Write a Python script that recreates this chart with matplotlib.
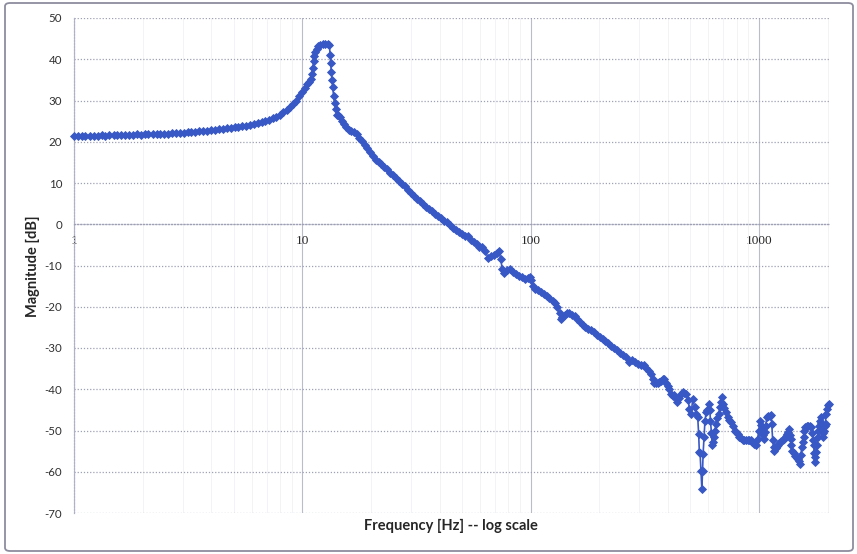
import matplotlib
matplotlib.use('Agg')
import matplotlib.pyplot as plt
from matplotlib.patches import FancyBboxPatch
from matplotlib.ticker import FixedLocator, LogLocator, NullFormatter

plt.rcParams['axes.unicode_minus'] = False

# ---------------- data ----------------
freq_hz = [
    1.00, 1.04, 1.08, 1.12, 1.17, 1.22, 1.27, 1.32, 1.37, 1.43,
    1.49, 1.55, 1.61, 1.67, 1.74, 1.81, 1.88, 1.96, 2.04, 2.12,
    2.21, 2.30, 2.39, 2.48, 2.58, 2.69, 2.80, 2.91, 3.03, 3.15,
    3.27, 3.40, 3.54, 3.68, 3.83, 3.98, 4.14, 4.31, 4.48, 4.66,
    4.85, 5.05, 5.25, 5.46, 5.68, 5.90, 6.14, 6.38, 6.63, 6.89,
    7.15, 7.42, 7.70, 7.98, 8.27, 8.56, 8.85, 9.14, 9.43, 9.72,
    10.0, 10.25, 10.5, 10.75, 10.95, 11.05, 11.12, 11.2, 11.3, 11.4,
    11.55, 11.75, 12.0, 12.3, 12.6, 12.9, 13.15, 13.25, 13.32, 13.40,
    13.50, 13.60, 13.72, 13.85, 14.0, 14.15, 14.4, 14.7, 15.0, 15.3,
    15.6, 16.0, 16.4, 16.8, 17.3, 17.8, 18.3, 18.8, 19.3, 19.8,
    20.4, 21.0, 21.6, 22.2, 22.9, 23.6, 24.3, 25.0, 25.8, 26.6,
    27.4, 28.2, 29.1, 30.0, 30.9, 31.8, 32.8, 33.8, 34.8, 35.9,
    37.0, 38.1, 39.3, 40.5, 41.7, 43.0, 44.3, 45.6, 47.0, 48.4,
    49.9, 51.4, 53.0, 54.6, 56.3, 58.0, 59.7, 61.5, 63.4, 65.3,
    67.3, 69.3, 71.4, 72.9, 74.0, 75.2, 76.5, 78.8, 81.2, 83.6,
    86.1, 88.7, 91.4, 94.2, 97.0, 99.0, 100.5, 102, 105, 108,
    111, 114, 118, 121, 125, 128, 131, 134, 136, 138,
    141, 145, 148, 152, 156, 160, 164, 169, 174, 179,
    184, 189, 195, 201, 207, 213, 219, 226, 233, 240,
    247, 254, 262, 270, 278, 286, 295, 304, 313, 322,
    332, 338, 344, 349, 355, 361, 367, 373, 380, 386,
    393, 399, 405, 412, 419, 426, 433, 440, 447, 455,
    464, 472, 480, 490, 497, 505, 514, 523, 531, 540,
    545, 549, 553, 558, 563, 567, 570, 576, 581, 588,
    595, 605, 610, 614, 620, 625, 630, 635, 642, 650,
    659, 668, 674, 680, 690, 697, 707, 718, 730, 743,
    757, 770, 783, 795, 808, 821, 835, 850, 865, 880,
    895, 910, 920, 935, 955, 975, 988, 1000, 1010, 1020,
    1030, 1040, 1050, 1060, 1070, 1085, 1100, 1120, 1130, 1140,
    1150, 1160, 1170, 1185, 1200, 1215, 1230, 1250, 1270, 1290,
    1310, 1330, 1345, 1360, 1370, 1380, 1390, 1400, 1420, 1440,
    1465, 1490, 1505, 1520, 1530, 1540, 1555, 1570, 1585, 1600,
    1625, 1650, 1675, 1700, 1715, 1730, 1740, 1750, 1760, 1770,
    1780, 1795, 1810, 1825, 1840, 1855, 1870, 1880, 1890, 1905,
    1920, 1935, 1950, 1960, 1970, 1985, 2000, 2020,
]

magnitude_db = [
    21.5, 21.5, 21.4, 21.5, 21.5, 21.5, 21.5, 21.6, 21.5, 21.6,
    21.6, 21.6, 21.7, 21.6, 21.7, 21.7, 21.8, 21.7, 21.8, 21.8,
    21.9, 21.9, 22.0, 21.9, 22.0, 22.1, 22.1, 22.2, 22.2, 22.3,
    22.4, 22.4, 22.5, 22.6, 22.7, 22.8, 22.9, 23.0, 23.1, 23.3,
    23.4, 23.5, 23.6, 23.8, 23.9, 24.1, 24.3, 24.5, 24.8, 25.0,
    25.3, 25.7, 26.1, 26.6, 27.2, 27.8, 28.5, 29.2, 30.0, 31.0,
    32.0, 33.0, 34.0, 34.6, 35.1, 36.5, 38.0, 39.5, 40.8, 41.8,
    42.6, 43.1, 43.4, 43.6, 43.6, 43.6, 43.4, 41.0, 39.0, 36.8,
    35.0, 33.3, 31.0, 29.3, 28.0, 26.6, 26.4, 26.0, 25.0, 24.2,
    23.5, 22.8, 22.6, 22.4, 21.9, 21.0, 20.3, 19.3, 18.5, 17.4,
    16.6, 15.6, 15.2, 14.7, 14.0, 13.3, 12.4, 11.9, 11.1, 10.5,
    9.8, 9.3, 8.4, 7.6, 6.8, 6.1, 5.6, 5.0, 4.3, 3.8,
    3.2, 2.5, 2.0, 1.5, 0.9, 0.5, -0.2, -0.8, -1.4, -1.9,
    -2.4, -2.9, -2.9, -3.8, -4.4, -4.8, -5.5, -5.5, -6.5, -8.3,
    -7.8, -7.4, -6.9, -6.6, -8.5, -10.8, -11.7, -11.2, -10.9, -11.5,
    -12.0, -12.5, -12.8, -13.2, -13.1, -12.7, -13.6, -15.0, -15.6, -16.0,
    -16.5, -16.9, -17.4, -17.9, -18.5, -19.0, -20.1, -21.6, -22.9, -22.5,
    -21.9, -21.4, -21.4, -21.9, -22.3, -22.9, -23.6, -24.4, -24.8, -25.3,
    -25.7, -26.2, -26.8, -27.4, -27.8, -28.2, -28.8, -29.6, -30.1, -30.6,
    -31.1, -31.7, -32.3, -33.4, -32.9, -33.3, -33.8, -34.0, -34.2, -34.9,
    -35.6, -36.3, -37.5, -38.6, -38.4, -38.5, -38.3, -37.9, -37.4, -37.6,
    -38.4, -39.3, -40.0, -41.1, -41.6, -41.4, -42.2, -43.0, -42.0, -41.2,
    -40.7, -40.9, -41.1, -42.7, -44.7, -45.9, -42.3, -44.3, -45.9, -46.8,
    -50.8, -55.3, -55.5, -59.7, -64.2, -59.8, -55.7, -51.5, -47.6, -45.6,
    -45.1, -43.5, -45.0, -47.6, -50.5, -53.6, -52.8, -51.6, -50.0, -48.4,
    -47.0, -45.9, -44.4, -43.1, -41.9, -43.5, -44.6, -45.6, -46.8, -47.5,
    -48.0, -49.0, -50.0, -50.3, -50.9, -51.6, -51.8, -52.4, -52.3, -52.4,
    -52.3, -52.3, -52.4, -52.8, -53.2, -53.6, -52.0, -50.0, -47.6, -48.6,
    -49.6, -51.0, -52.0, -50.4, -48.8, -46.8, -46.5, -46.4, -46.2, -48.4,
    -52.4, -54.0, -54.9, -54.3, -53.7, -53.4, -53.0, -52.6, -52.3, -52.0,
    -51.4, -50.8, -50.3, -49.6, -51.0, -52.0, -53.5, -54.9, -55.5, -56.1,
    -56.6, -56.9, -57.5, -58.1, -56.0, -54.1, -52.8, -51.6, -50.2, -49.2,
    -48.9, -48.8, -48.9, -49.2, -50.5, -52.4, -53.6, -55.5, -57.7, -56.5,
    -55.3, -53.5, -51.6, -50.1, -48.8, -47.6, -46.8, -48.3, -49.6, -50.6,
    -51.6, -50.2, -49.0, -48.4, -45.9, -44.8, -43.9, -43.5,
]

x_ticks = [1, 10, 100, 1000]
x_tick_labels = ['1', '10', '100', '1000']
y_ticks = [-70, -60, -50, -40, -30, -20, -10, 0, 10, 20, 30, 40, 50]
x_label = 'Frequency [Hz] -- log scale'
y_label = 'Magnitude [dB]'

# ---------------- figure ----------------
W, H = 857, 554
fig = plt.figure(figsize=(W / 100, H / 100), dpi=100)
fig.patch.set_facecolor('white')

left, right, top, bottom = 74, 829, 18, 513
ax = fig.add_axes([left / W, 1 - bottom / H, (right - left) / W, (bottom - top) / H])
ax.set_facecolor('white')
ax.set_xscale('log')
ax.set_xlim(1, 2030)
ax.set_ylim(-70, 50)

# grid lines
ax.xaxis.set_major_locator(FixedLocator(x_ticks))
ax.xaxis.set_minor_locator(LogLocator(base=10, subs=range(2, 10)))
ax.xaxis.set_minor_formatter(NullFormatter())
ax.set_xticklabels(x_tick_labels)
ax.grid(which='minor', axis='x', color='#f1f1f5', lw=0.6, zorder=0)
ax.grid(which='major', axis='x', color='#babccb', lw=0.8, zorder=0)
ax.set_yticks(y_ticks)
ax.grid(which='major', axis='y', color='#9fa0b4', lw=0.9, linestyle=(0, (1, 1.5)), zorder=0)
ax.set_axisbelow(True)

# spines: Excel-like axes crossing at x=1, y=0
for s in ('top', 'right'):
    ax.spines[s].set_visible(False)
ax.spines['bottom'].set_position(('data', 0))
ax.spines['bottom'].set_color('#9fa0b4')
ax.spines['bottom'].set_linestyle((0, (1, 1.5)))
ax.spines['bottom'].set_linewidth(0.9)
ax.spines['left'].set_color('#aeb0c6')
ax.spines['left'].set_linestyle((0, (1, 1.5)))
ax.spines['left'].set_linewidth(0.9)

ax.tick_params(axis='x', which='both', length=0, pad=7.5)
ax.tick_params(axis='y', which='both', length=0, pad=8.5)
for lab in ax.get_xticklabels():
    lab.set_fontfamily('Liberation Serif')
    lab.set_fontsize(9.5)
    lab.set_color('#262626')
for lab in ax.get_yticklabels():
    lab.set_fontfamily('Lato')
    lab.set_fontsize(8.3)
    lab.set_color('#303030')

# data series
blue = '#3858c6'
ax.plot(freq_hz, magnitude_db, color=blue, lw=1.2, marker='D', ms=3.8,
        mfc=blue, mec=blue, mew=0.6, clip_on=False, zorder=3)

# axis titles
fig.text(33 / W, 1 - 266 / H, y_label, rotation=90, ha='center', va='center',
         fontsize=10.5, fontweight='bold', family='Lato', color='#262626')
fig.text(451 / W, 1 - 526 / H, x_label, ha='center', va='center',
         fontsize=10.5, fontweight='bold', family='Lato', color='#262626')

# outer chart frame
frame = FancyBboxPatch((5 / W, 3 / H), (853 - 5) / W, (551 - 3) / H,
                       boxstyle='round,pad=0,rounding_size=0.006',
                       transform=fig.transFigure, fill=False,
                       ec='#8c8c9e', lw=1.3)
fig.add_artist(frame)

fig.savefig('out.png', dpi=100)
